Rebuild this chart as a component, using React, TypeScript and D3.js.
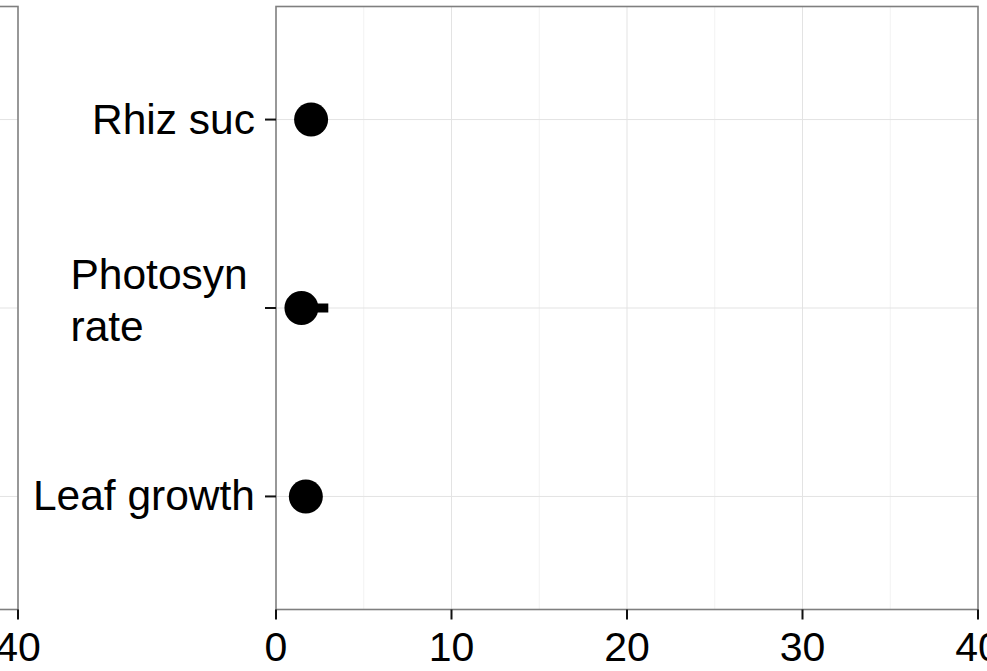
import * as d3 from 'd3';
import { useEffect, useRef } from 'react';

// categories from bottom to top, "\n" splits a label onto two lines
const categories = ['Leaf growth', 'Photosyn\nrate', 'Rhiz suc'];
const means = [1.7, 1.45, 2.0];
const lower = [1.3, 0.9, 1.6];
const upper = [2.1, 2.98, 2.4];
const xTicks = [0, 10, 20, 30, 40];
const xMinor = [5, 15, 25, 35];

const W = 987;
const H = 671;

const App = () => {
  const ref = useRef<SVGSVGElement | null>(null);

  useEffect(() => {
    const svg = d3.select(ref.current);
    svg.selectAll('*').remove();

    const margin = { top: 6.5, bottom: 61.5, left: 276, right: 9 };
    const bh = H - margin.top - margin.bottom;
    const bw = W - margin.left - margin.right;
    const font = '"Liberation Sans", Arial, Helvetica, sans-serif';

    const y = d3
      .scalePoint<string>()
      .domain(categories)
      .range([margin.top + bh, margin.top])
      .padding(0.6);

    const drawPanel = (x: d3.ScaleLinear<number, number>, showPoints: boolean) => {
      const [x0, x1] = x.range();
      const g = svg.append('g');
      g.append('rect')
        .attr('x', x0)
        .attr('y', margin.top)
        .attr('width', x1 - x0)
        .attr('height', bh)
        .style('fill', '#fff');

      g.selectAll('.minor')
        .data(xMinor)
        .enter()
        .append('line')
        .attr('x1', (d) => x(d))
        .attr('x2', (d) => x(d))
        .attr('y1', margin.top)
        .attr('y2', margin.top + bh)
        .style('stroke', '#f2f2f2')
        .style('stroke-width', 1);

      g.selectAll('.major')
        .data(xTicks.slice(1, -1))
        .enter()
        .append('line')
        .attr('x1', (d) => x(d))
        .attr('x2', (d) => x(d))
        .attr('y1', margin.top)
        .attr('y2', margin.top + bh)
        .style('stroke', '#e3e3e3')
        .style('stroke-width', 1);

      g.selectAll('.hgrid')
        .data(categories)
        .enter()
        .append('line')
        .attr('x1', x0)
        .attr('x2', x1)
        .attr('y1', (d) => y(d)!)
        .attr('y2', (d) => y(d)!)
        .style('stroke', '#e3e3e3')
        .style('stroke-width', 1);

      if (showPoints) {
        const rows = categories.map((c, i) => ({ c, m: means[i], lo: lower[i], hi: upper[i] }));
        g.selectAll('.err')
          .data(rows)
          .enter()
          .append('rect')
          .attr('x', (d) => x(d.lo))
          .attr('y', (d) => y(d.c)! - 4.5)
          .attr('width', (d) => x(d.hi) - x(d.lo))
          .attr('height', 9)
          .style('fill', '#000');
        g.selectAll('.pt')
          .data(rows)
          .enter()
          .append('circle')
          .attr('cx', (d) => x(d.m))
          .attr('cy', (d) => y(d.c)!)
          .attr('r', 17)
          .style('fill', '#000');
      }

      g.append('rect')
        .attr('x', x0)
        .attr('y', margin.top)
        .attr('width', x1 - x0)
        .attr('height', bh)
        .style('fill', 'none')
        .style('stroke', '#7f7f7f')
        .style('stroke-width', 1.6);

      // x axis ticks + labels (skip what lies fully off the page)
      const visible = xTicks.filter((d) => x(d) > -10);
      g.selectAll('.xt')
        .data(visible)
        .enter()
        .append('line')
        .attr('x1', (d) => x(d))
        .attr('x2', (d) => x(d))
        .attr('y1', margin.top + bh)
        .attr('y2', margin.top + bh + 10)
        .style('stroke', '#111')
        .style('stroke-width', 2);
      g.selectAll('.xl')
        .data(visible)
        .enter()
        .append('text')
        .attr('x', (d) => x(d))
        .attr('y', margin.top + bh + 51)
        .attr('text-anchor', 'middle')
        .style('font-family', font)
        .style('font-size', '41px')
        .style('fill', '#000')
        .text((d) => d);
    };

    // previous facet, mostly off screen
    drawPanel(d3.scaleLinear().domain([0, 40]).range([18 - bw, 18]), false);
    // main facet
    const x = d3.scaleLinear().domain([0, 40]).range([margin.left, margin.left + bw]);
    drawPanel(x, true);

    // y axis ticks + labels
    svg
      .selectAll('.yt')
      .data(categories)
      .enter()
      .append('line')
      .attr('x1', margin.left - 11)
      .attr('x2', margin.left)
      .attr('y1', (d) => y(d)!)
      .attr('y2', (d) => y(d)!)
      .style('stroke', '#111')
      .style('stroke-width', 2);

    categories.forEach((c) => {
      const lines = c.split('\n');
      if (lines.length === 1) {
        svg
          .append('text')
          .attr('x', margin.left - 21)
          .attr('y', y(c)! + 14)
          .attr('text-anchor', 'end')
          .style('font-family', font)
          .style('font-size', '42.5px')
          .style('fill', '#000')
          .text(c);
      } else {
        const t = svg
          .append('text')
          .attr('x', 70.5)
          .style('font-family', font)
          .style('font-size', '42.5px')
          .style('fill', '#000');
        lines.forEach((l, i) => {
          t.append('tspan')
            .attr('x', 70.5)
            .attr('y', y(c)! - 19 + i * 52)
            .text(l);
        });
      }
    });
  }, []);

  return (
    <svg
      ref={ref}
      width={W}
      height={H}
      style={{ position: 'absolute', left: 0, top: 0, background: '#fff' }}
    ></svg>
  );
};

export default App;
